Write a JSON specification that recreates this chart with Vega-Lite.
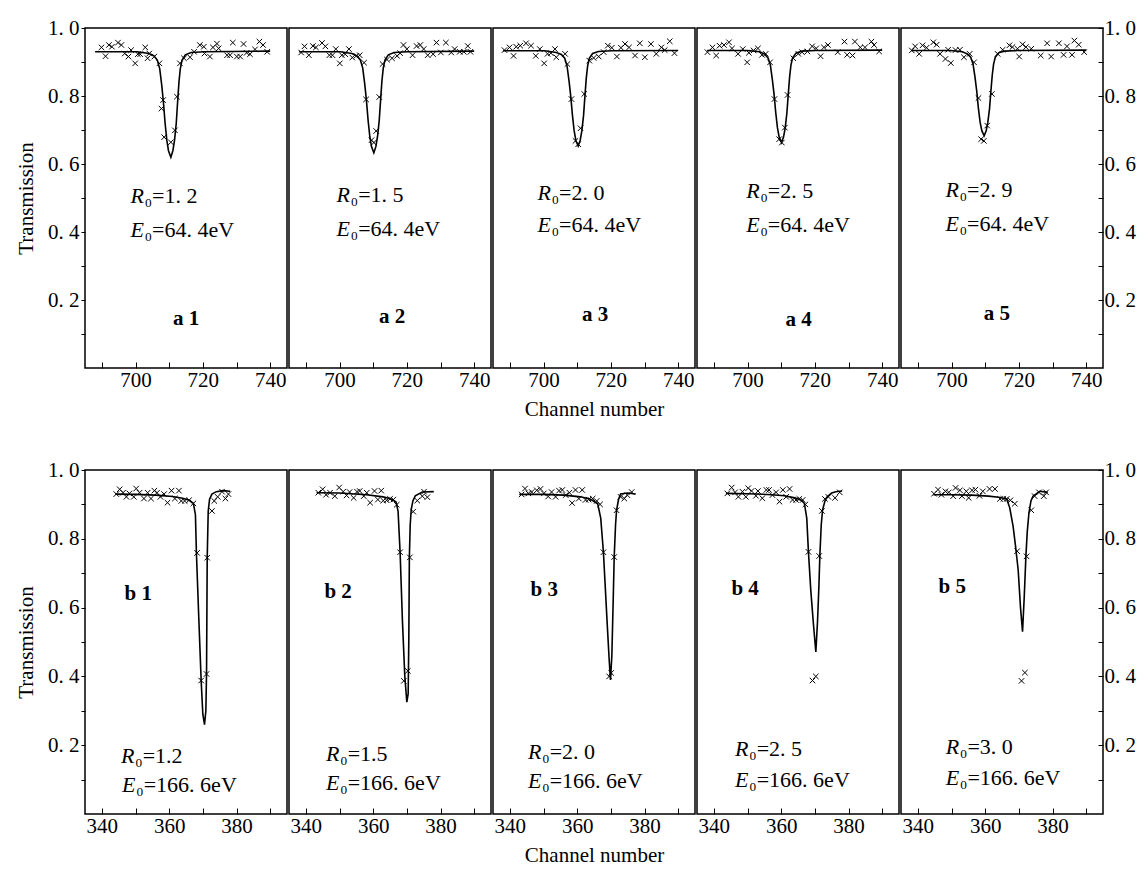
{
"$schema": "https://vega.github.io/schema/vega-lite/v6.json",
"background": "white",
"padding": {"left": 14, "top": 16, "right": 5, "bottom": 5},
"config": {
  "view": {"stroke": "black", "strokeWidth": 1.5},
  "font": "'Liberation Serif', 'Times New Roman', 'DejaVu Serif', serif",
  "axis": {"domain": false, "grid": false, "labelFont": "'Liberation Serif', 'Times New Roman', 'DejaVu Serif', serif", "labelFontSize": 21, "labelColor": "black", "tickColor": "black", "tickWidth": 1, "titleFont": "'Liberation Serif', 'Times New Roman', 'DejaVu Serif', serif", "titleFontSize": 21, "titleFontWeight": "normal", "titleColor": "black", "labelFlush": false, "labelOverlap": false},
  "text": {"font": "'Liberation Serif', 'Times New Roman', 'DejaVu Serif', serif", "fontSize": 22, "color": "black"}
},
"datasets": {
"curve": [
{"p":"a1","c":688,"t":0.930},{"p":"a1","c":700.5,"t":0.930},{"p":"a1","c":704,"t":0.925},{"p":"a1","c":705.5,"t":0.918},{"p":"a1","c":706.5,"t":0.905},{"p":"a1","c":707.2,"t":0.880},{"p":"a1","c":707.8,"t":0.831},{"p":"a1","c":708.3,"t":0.781},{"p":"a1","c":708.8,"t":0.719},{"p":"a1","c":709.3,"t":0.670},{"p":"a1","c":709.8,"t":0.639},{"p":"a1","c":710.5,"t":0.620},{"p":"a1","c":711.1,"t":0.639},{"p":"a1","c":711.6,"t":0.670},{"p":"a1","c":712.1,"t":0.719},{"p":"a1","c":712.5,"t":0.781},{"p":"a1","c":712.9,"t":0.840},{"p":"a1","c":713.3,"t":0.880},{"p":"a1","c":713.8,"t":0.905},{"p":"a1","c":714.8,"t":0.921},{"p":"a1","c":716.5,"t":0.928},{"p":"a1","c":720.5,"t":0.930},{"p":"a1","c":740,"t":0.932},
{"p":"a2","c":688,"t":0.930},{"p":"a2","c":700.2,"t":0.930},{"p":"a2","c":703.7,"t":0.925},{"p":"a2","c":705.2,"t":0.918},{"p":"a2","c":706.2,"t":0.906},{"p":"a2","c":706.9,"t":0.882},{"p":"a2","c":707.5,"t":0.835},{"p":"a2","c":708.0,"t":0.787},{"p":"a2","c":708.5,"t":0.728},{"p":"a2","c":709.0,"t":0.681},{"p":"a2","c":709.5,"t":0.651},{"p":"a2","c":710.2,"t":0.633},{"p":"a2","c":710.8,"t":0.651},{"p":"a2","c":711.3,"t":0.681},{"p":"a2","c":711.8,"t":0.728},{"p":"a2","c":712.2,"t":0.787},{"p":"a2","c":712.6,"t":0.844},{"p":"a2","c":713.0,"t":0.882},{"p":"a2","c":713.5,"t":0.906},{"p":"a2","c":714.5,"t":0.921},{"p":"a2","c":716.2,"t":0.928},{"p":"a2","c":720.2,"t":0.930},{"p":"a2","c":740,"t":0.932},
{"p":"a3","c":688,"t":0.933},{"p":"a3","c":700.3,"t":0.933},{"p":"a3","c":703.8,"t":0.928},{"p":"a3","c":705.3,"t":0.922},{"p":"a3","c":706.3,"t":0.911},{"p":"a3","c":707.0,"t":0.888},{"p":"a3","c":707.6,"t":0.843},{"p":"a3","c":708.1,"t":0.799},{"p":"a3","c":708.6,"t":0.743},{"p":"a3","c":709.1,"t":0.698},{"p":"a3","c":709.6,"t":0.670},{"p":"a3","c":710.3,"t":0.653},{"p":"a3","c":710.9,"t":0.670},{"p":"a3","c":711.4,"t":0.698},{"p":"a3","c":711.9,"t":0.743},{"p":"a3","c":712.3,"t":0.799},{"p":"a3","c":712.7,"t":0.852},{"p":"a3","c":713.1,"t":0.888},{"p":"a3","c":713.6,"t":0.911},{"p":"a3","c":714.6,"t":0.925},{"p":"a3","c":716.3,"t":0.931},{"p":"a3","c":720.3,"t":0.933},{"p":"a3","c":740,"t":0.934},
{"p":"a4","c":688,"t":0.934},{"p":"a4","c":700.1,"t":0.934},{"p":"a4","c":703.6,"t":0.930},{"p":"a4","c":705.1,"t":0.923},{"p":"a4","c":706.1,"t":0.912},{"p":"a4","c":706.8,"t":0.891},{"p":"a4","c":707.4,"t":0.847},{"p":"a4","c":707.9,"t":0.804},{"p":"a4","c":708.4,"t":0.750},{"p":"a4","c":708.9,"t":0.706},{"p":"a4","c":709.4,"t":0.679},{"p":"a4","c":710.1,"t":0.663},{"p":"a4","c":710.7,"t":0.679},{"p":"a4","c":711.2,"t":0.706},{"p":"a4","c":711.7,"t":0.750},{"p":"a4","c":712.1,"t":0.804},{"p":"a4","c":712.5,"t":0.855},{"p":"a4","c":712.9,"t":0.891},{"p":"a4","c":713.4,"t":0.912},{"p":"a4","c":714.4,"t":0.926},{"p":"a4","c":716.1,"t":0.932},{"p":"a4","c":720.1,"t":0.934},{"p":"a4","c":740,"t":0.935},
{"p":"a5","c":688,"t":0.934},{"p":"a5","c":699.7,"t":0.934},{"p":"a5","c":703.2,"t":0.930},{"p":"a5","c":704.7,"t":0.924},{"p":"a5","c":705.7,"t":0.914},{"p":"a5","c":706.4,"t":0.894},{"p":"a5","c":707.0,"t":0.854},{"p":"a5","c":707.5,"t":0.814},{"p":"a5","c":708.0,"t":0.763},{"p":"a5","c":708.5,"t":0.723},{"p":"a5","c":709.0,"t":0.698},{"p":"a5","c":709.7,"t":0.683},{"p":"a5","c":710.3,"t":0.698},{"p":"a5","c":710.8,"t":0.723},{"p":"a5","c":711.3,"t":0.763},{"p":"a5","c":711.7,"t":0.814},{"p":"a5","c":712.1,"t":0.861},{"p":"a5","c":712.5,"t":0.894},{"p":"a5","c":713.0,"t":0.914},{"p":"a5","c":714.0,"t":0.927},{"p":"a5","c":715.7,"t":0.932},{"p":"a5","c":719.7,"t":0.934},{"p":"a5","c":740,"t":0.935},
{"p":"b1","c":344,"t":0.930},{"p":"b1","c":350,"t":0.929},{"p":"b1","c":356,"t":0.927},{"p":"b1","c":361,"t":0.923},{"p":"b1","c":364,"t":0.918},{"p":"b1","c":366,"t":0.912},{"p":"b1","c":367.2,"t":0.903},{"p":"b1","c":367.8,"t":0.87},{"p":"b1","c":368.1,"t":0.757},{"p":"b1","c":368.8,"t":0.57},{"p":"b1","c":369.5,"t":0.388},{"p":"b1","c":370.0,"t":0.29},{"p":"b1","c":370.5,"t":0.26},{"p":"b1","c":370.9,"t":0.30},{"p":"b1","c":371.1,"t":0.41},{"p":"b1","c":371.3,"t":0.745},{"p":"b1","c":371.6,"t":0.88},{"p":"b1","c":372.0,"t":0.915},{"p":"b1","c":372.7,"t":0.930},{"p":"b1","c":374,"t":0.937},{"p":"b1","c":376,"t":0.940},{"p":"b1","c":378.1,"t":0.938},
{"p":"b2","c":343.2,"t":0.934},{"p":"b2","c":350,"t":0.933},{"p":"b2","c":358,"t":0.928},{"p":"b2","c":363,"t":0.922},{"p":"b2","c":365.5,"t":0.915},{"p":"b2","c":366.8,"t":0.907},{"p":"b2","c":367.4,"t":0.88},{"p":"b2","c":368.0,"t":0.761},{"p":"b2","c":368.7,"t":0.56},{"p":"b2","c":369.4,"t":0.40},{"p":"b2","c":370.0,"t":0.325},{"p":"b2","c":370.4,"t":0.35},{"p":"b2","c":370.6,"t":0.52},{"p":"b2","c":370.75,"t":0.746},{"p":"b2","c":371.0,"t":0.84},{"p":"b2","c":371.3,"t":0.885},{"p":"b2","c":371.8,"t":0.91},{"p":"b2","c":372.5,"t":0.925},{"p":"b2","c":374.6,"t":0.936},{"p":"b2","c":378.0,"t":0.937},
{"p":"b3","c":342.8,"t":0.929},{"p":"b3","c":350,"t":0.929},{"p":"b3","c":356,"t":0.927},{"p":"b3","c":361,"t":0.922},{"p":"b3","c":364,"t":0.915},{"p":"b3","c":366.1,"t":0.902},{"p":"b3","c":367.0,"t":0.86},{"p":"b3","c":367.8,"t":0.761},{"p":"b3","c":368.9,"t":0.557},{"p":"b3","c":369.5,"t":0.45},{"p":"b3","c":369.9,"t":0.39},{"p":"b3","c":370.3,"t":0.46},{"p":"b3","c":370.7,"t":0.62},{"p":"b3","c":371.0,"t":0.747},{"p":"b3","c":371.4,"t":0.84},{"p":"b3","c":371.7,"t":0.883},{"p":"b3","c":372.3,"t":0.915},{"p":"b3","c":372.9,"t":0.930},{"p":"b3","c":375,"t":0.933},{"p":"b3","c":377.4,"t":0.930},
{"p":"b4","c":343.6,"t":0.932},{"p":"b4","c":350,"t":0.931},{"p":"b4","c":356,"t":0.929},{"p":"b4","c":361,"t":0.925},{"p":"b4","c":364,"t":0.919},{"p":"b4","c":366,"t":0.912},{"p":"b4","c":366.9,"t":0.903},{"p":"b4","c":367.6,"t":0.86},{"p":"b4","c":368.1,"t":0.762},{"p":"b4","c":368.8,"t":0.65},{"p":"b4","c":369.6,"t":0.55},{"p":"b4","c":370.3,"t":0.471},{"p":"b4","c":370.8,"t":0.56},{"p":"b4","c":371.2,"t":0.66},{"p":"b4","c":371.5,"t":0.753},{"p":"b4","c":371.9,"t":0.84},{"p":"b4","c":372.3,"t":0.884},{"p":"b4","c":373.0,"t":0.91},{"p":"b4","c":373.7,"t":0.922},{"p":"b4","c":375,"t":0.933},{"p":"b4","c":376.2,"t":0.937},{"p":"b4","c":378.1,"t":0.939},
{"p":"b5","c":344.6,"t":0.928},{"p":"b5","c":350,"t":0.928},{"p":"b5","c":356,"t":0.927},{"p":"b5","c":361,"t":0.924},{"p":"b5","c":364,"t":0.921},{"p":"b5","c":366.4,"t":0.916},{"p":"b5","c":367.3,"t":0.89},{"p":"b5","c":368.3,"t":0.836},{"p":"b5","c":369.0,"t":0.78},{"p":"b5","c":369.8,"t":0.710},{"p":"b5","c":370.5,"t":0.60},{"p":"b5","c":371.1,"t":0.530},{"p":"b5","c":371.6,"t":0.63},{"p":"b5","c":372.1,"t":0.749},{"p":"b5","c":372.5,"t":0.82},{"p":"b5","c":373.0,"t":0.875},{"p":"b5","c":373.6,"t":0.91},{"p":"b5","c":374.2,"t":0.924},{"p":"b5","c":376.2,"t":0.938},{"p":"b5","c":378.6,"t":0.935}
],
"pts": [
{"p":"a1","c":689.9,"t":0.943},{"p":"a1","c":691.1,"t":0.917},{"p":"a1","c":692.1,"t":0.950},{"p":"a1","c":693.0,"t":0.945},{"p":"a1","c":694.8,"t":0.957},{"p":"a1","c":695.8,"t":0.950},{"p":"a1","c":696.8,"t":0.925},{"p":"a1","c":697.9,"t":0.916},{"p":"a1","c":698.7,"t":0.935},{"p":"a1","c":699.9,"t":0.896},{"p":"a1","c":700.7,"t":0.923},{"p":"a1","c":701.4,"t":0.923},{"p":"a1","c":702.9,"t":0.943},{"p":"a1","c":703.6,"t":0.911},{"p":"a1","c":704.1,"t":0.925},{"p":"a1","c":705.6,"t":0.916},{"p":"a1","c":707.1,"t":0.896},{"p":"a1","c":708.2,"t":0.788},{"p":"a1","c":707.7,"t":0.763},{"p":"a1","c":708.5,"t":0.679},{"p":"a1","c":710.5,"t":0.664},{"p":"a1","c":711.7,"t":0.699},{"p":"a1","c":712.3,"t":0.798},{"p":"a1","c":713.2,"t":0.896},{"p":"a1","c":714.4,"t":0.911},{"p":"a1","c":716.2,"t":0.914},{"p":"a1","c":717.4,"t":0.930},{"p":"a1","c":719.1,"t":0.950},{"p":"a1","c":720.3,"t":0.945},{"p":"a1","c":720.5,"t":0.925},{"p":"a1","c":722.1,"t":0.916},{"p":"a1","c":723.0,"t":0.943},{"p":"a1","c":724.2,"t":0.954},{"p":"a1","c":724.7,"t":0.940},{"p":"a1","c":727.2,"t":0.920},{"p":"a1","c":728.1,"t":0.920},{"p":"a1","c":728.9,"t":0.957},{"p":"a1","c":730.1,"t":0.916},{"p":"a1","c":731.1,"t":0.916},{"p":"a1","c":732.1,"t":0.953},{"p":"a1","c":733.0,"t":0.927},{"p":"a1","c":734.0,"t":0.923},{"p":"a1","c":735.5,"t":0.937},{"p":"a1","c":736.8,"t":0.960},{"p":"a1","c":737.9,"t":0.950},{"p":"a1","c":739.1,"t":0.930},
{"p":"a2","c":688.6,"t":0.928},{"p":"a2","c":689.6,"t":0.946},{"p":"a2","c":690.9,"t":0.920},{"p":"a2","c":692.1,"t":0.947},{"p":"a2","c":693.0,"t":0.943},{"p":"a2","c":694.8,"t":0.956},{"p":"a2","c":695.8,"t":0.946},{"p":"a2","c":697.0,"t":0.920},{"p":"a2","c":697.9,"t":0.920},{"p":"a2","c":698.9,"t":0.938},{"p":"a2","c":700.1,"t":0.896},{"p":"a2","c":700.7,"t":0.920},{"p":"a2","c":701.7,"t":0.923},{"p":"a2","c":702.8,"t":0.938},{"p":"a2","c":703.8,"t":0.913},{"p":"a2","c":705.0,"t":0.918},{"p":"a2","c":706.0,"t":0.920},{"p":"a2","c":707.3,"t":0.898},{"p":"a2","c":707.9,"t":0.790},{"p":"a2","c":709.5,"t":0.670},{"p":"a2","c":710.2,"t":0.663},{"p":"a2","c":710.9,"t":0.697},{"p":"a2","c":711.8,"t":0.797},{"p":"a2","c":712.8,"t":0.894},{"p":"a2","c":714.1,"t":0.907},{"p":"a2","c":715.6,"t":0.911},{"p":"a2","c":717.1,"t":0.918},{"p":"a2","c":718.0,"t":0.926},{"p":"a2","c":719.0,"t":0.950},{"p":"a2","c":720.0,"t":0.938},{"p":"a2","c":721.7,"t":0.920},{"p":"a2","c":722.9,"t":0.947},{"p":"a2","c":724.0,"t":0.950},{"p":"a2","c":725.0,"t":0.938},{"p":"a2","c":726.2,"t":0.920},{"p":"a2","c":727.8,"t":0.923},{"p":"a2","c":728.8,"t":0.957},{"p":"a2","c":730.1,"t":0.928},{"p":"a2","c":731.6,"t":0.957},{"p":"a2","c":733.2,"t":0.928},{"p":"a2","c":734.2,"t":0.938},{"p":"a2","c":735.7,"t":0.930},{"p":"a2","c":736.9,"t":0.930},{"p":"a2","c":738.1,"t":0.947},{"p":"a2","c":738.9,"t":0.930},
{"p":"a3","c":688.4,"t":0.935},{"p":"a3","c":689.9,"t":0.943},{"p":"a3","c":691.1,"t":0.918},{"p":"a3","c":691.9,"t":0.945},{"p":"a3","c":693.1,"t":0.948},{"p":"a3","c":694.8,"t":0.955},{"p":"a3","c":696.3,"t":0.948},{"p":"a3","c":697.7,"t":0.918},{"p":"a3","c":698.9,"t":0.938},{"p":"a3","c":700.2,"t":0.896},{"p":"a3","c":701.2,"t":0.924},{"p":"a3","c":702.2,"t":0.926},{"p":"a3","c":703.4,"t":0.938},{"p":"a3","c":703.8,"t":0.914},{"p":"a3","c":706.4,"t":0.924},{"p":"a3","c":707.1,"t":0.894},{"p":"a3","c":708.3,"t":0.791},{"p":"a3","c":709.5,"t":0.668},{"p":"a3","c":710.3,"t":0.658},{"p":"a3","c":711.0,"t":0.705},{"p":"a3","c":712.1,"t":0.806},{"p":"a3","c":713.6,"t":0.904},{"p":"a3","c":714.9,"t":0.912},{"p":"a3","c":716.4,"t":0.916},{"p":"a3","c":717.9,"t":0.929},{"p":"a3","c":719.1,"t":0.948},{"p":"a3","c":720.3,"t":0.942},{"p":"a3","c":721.8,"t":0.916},{"p":"a3","c":723.0,"t":0.942},{"p":"a3","c":724.2,"t":0.953},{"p":"a3","c":725.4,"t":0.943},{"p":"a3","c":727.2,"t":0.919},{"p":"a3","c":728.6,"t":0.955},{"p":"a3","c":730.1,"t":0.914},{"p":"a3","c":731.9,"t":0.953},{"p":"a3","c":733.5,"t":0.924},{"p":"a3","c":735.0,"t":0.943},{"p":"a3","c":736.0,"t":0.935},{"p":"a3","c":737.5,"t":0.961},{"p":"a3","c":738.9,"t":0.926},
{"p":"a4","c":688.1,"t":0.929},{"p":"a4","c":689.6,"t":0.943},{"p":"a4","c":690.7,"t":0.919},{"p":"a4","c":691.7,"t":0.948},{"p":"a4","c":693.0,"t":0.950},{"p":"a4","c":694.5,"t":0.958},{"p":"a4","c":695.4,"t":0.940},{"p":"a4","c":697.2,"t":0.924},{"p":"a4","c":698.6,"t":0.938},{"p":"a4","c":699.9,"t":0.899},{"p":"a4","c":700.4,"t":0.927},{"p":"a4","c":701.8,"t":0.934},{"p":"a4","c":703.1,"t":0.940},{"p":"a4","c":704.3,"t":0.921},{"p":"a4","c":705.4,"t":0.924},{"p":"a4","c":706.7,"t":0.899},{"p":"a4","c":708.0,"t":0.791},{"p":"a4","c":709.4,"t":0.673},{"p":"a4","c":710.2,"t":0.663},{"p":"a4","c":711.1,"t":0.707},{"p":"a4","c":711.9,"t":0.803},{"p":"a4","c":713.6,"t":0.911},{"p":"a4","c":715.1,"t":0.924},{"p":"a4","c":716.2,"t":0.929},{"p":"a4","c":717.8,"t":0.931},{"p":"a4","c":719.2,"t":0.946},{"p":"a4","c":720.4,"t":0.940},{"p":"a4","c":721.7,"t":0.917},{"p":"a4","c":722.7,"t":0.943},{"p":"a4","c":723.9,"t":0.950},{"p":"a4","c":726.8,"t":0.929},{"p":"a4","c":728.8,"t":0.960},{"p":"a4","c":729.6,"t":0.921},{"p":"a4","c":731.2,"t":0.919},{"p":"a4","c":731.9,"t":0.960},{"p":"a4","c":733.5,"t":0.943},{"p":"a4","c":734.9,"t":0.943},{"p":"a4","c":736.8,"t":0.960},{"p":"a4","c":737.6,"t":0.950},{"p":"a4","c":739.1,"t":0.931},
{"p":"a5","c":688.2,"t":0.934},{"p":"a5","c":689.2,"t":0.946},{"p":"a5","c":690.4,"t":0.924},{"p":"a5","c":691.4,"t":0.949},{"p":"a5","c":692.6,"t":0.942},{"p":"a5","c":694.6,"t":0.958},{"p":"a5","c":695.6,"t":0.951},{"p":"a5","c":696.6,"t":0.924},{"p":"a5","c":698.2,"t":0.909},{"p":"a5","c":699.0,"t":0.936},{"p":"a5","c":699.8,"t":0.897},{"p":"a5","c":701.2,"t":0.935},{"p":"a5","c":702.5,"t":0.936},{"p":"a5","c":703.7,"t":0.914},{"p":"a5","c":705.4,"t":0.924},{"p":"a5","c":706.7,"t":0.899},{"p":"a5","c":708.0,"t":0.794},{"p":"a5","c":708.8,"t":0.673},{"p":"a5","c":709.6,"t":0.668},{"p":"a5","c":710.6,"t":0.713},{"p":"a5","c":712.0,"t":0.806},{"p":"a5","c":713.7,"t":0.924},{"p":"a5","c":715.2,"t":0.936},{"p":"a5","c":717.2,"t":0.949},{"p":"a5","c":718.1,"t":0.944},{"p":"a5","c":719.6,"t":0.939},{"p":"a5","c":720.1,"t":0.916},{"p":"a5","c":721.1,"t":0.952},{"p":"a5","c":722.1,"t":0.944},{"p":"a5","c":723.7,"t":0.939},{"p":"a5","c":726.5,"t":0.919},{"p":"a5","c":728.4,"t":0.955},{"p":"a5","c":729.6,"t":0.916},{"p":"a5","c":731.9,"t":0.955},{"p":"a5","c":733.3,"t":0.921},{"p":"a5","c":734.3,"t":0.946},{"p":"a5","c":735.8,"t":0.921},{"p":"a5","c":736.5,"t":0.963},{"p":"a5","c":737.8,"t":0.951},{"p":"a5","c":739.4,"t":0.929},
{"p":"b1","c":344.3,"t":0.930},{"p":"b1","c":345.3,"t":0.944},{"p":"b1","c":346.3,"t":0.934},{"p":"b1","c":347.3,"t":0.922},{"p":"b1","c":348.2,"t":0.932},{"p":"b1","c":349.5,"t":0.922},{"p":"b1","c":350.2,"t":0.946},{"p":"b1","c":351.2,"t":0.934},{"p":"b1","c":352.5,"t":0.917},{"p":"b1","c":353.6,"t":0.934},{"p":"b1","c":354.6,"t":0.917},{"p":"b1","c":355.6,"t":0.940},{"p":"b1","c":356.4,"t":0.934},{"p":"b1","c":357.4,"t":0.922},{"p":"b1","c":358.5,"t":0.930},{"p":"b1","c":359.5,"t":0.905},{"p":"b1","c":360.7,"t":0.940},{"p":"b1","c":361.7,"t":0.917},{"p":"b1","c":362.9,"t":0.940},{"p":"b1","c":363.6,"t":0.910},{"p":"b1","c":364.6,"t":0.910},{"p":"b1","c":365.9,"t":0.912},{"p":"b1","c":367.2,"t":0.903},{"p":"b1","c":368.3,"t":0.759},{"p":"b1","c":369.5,"t":0.388},{"p":"b1","c":371.1,"t":0.407},{"p":"b1","c":371.3,"t":0.745},{"p":"b1","c":372.7,"t":0.881},{"p":"b1","c":373.4,"t":0.910},{"p":"b1","c":374.4,"t":0.922},{"p":"b1","c":375.7,"t":0.937},{"p":"b1","c":376.7,"t":0.917},{"p":"b1","c":377.6,"t":0.930},
{"p":"b2","c":343.7,"t":0.934},{"p":"b2","c":345.0,"t":0.944},{"p":"b2","c":346.0,"t":0.928},{"p":"b2","c":347.2,"t":0.934},{"p":"b2","c":348.6,"t":0.924},{"p":"b2","c":349.9,"t":0.949},{"p":"b2","c":351.1,"t":0.937},{"p":"b2","c":352.1,"t":0.926},{"p":"b2","c":353.0,"t":0.936},{"p":"b2","c":354.2,"t":0.919},{"p":"b2","c":355.2,"t":0.937},{"p":"b2","c":356.0,"t":0.939},{"p":"b2","c":357.2,"t":0.924},{"p":"b2","c":358.1,"t":0.934},{"p":"b2","c":359.1,"t":0.905},{"p":"b2","c":360.4,"t":0.939},{"p":"b2","c":361.4,"t":0.914},{"p":"b2","c":362.4,"t":0.940},{"p":"b2","c":363.0,"t":0.911},{"p":"b2","c":364.0,"t":0.912},{"p":"b2","c":365.0,"t":0.916},{"p":"b2","c":366.0,"t":0.914},{"p":"b2","c":367.0,"t":0.899},{"p":"b2","c":368.0,"t":0.761},{"p":"b2","c":369.1,"t":0.387},{"p":"b2","c":370.3,"t":0.416},{"p":"b2","c":370.9,"t":0.746},{"p":"b2","c":371.9,"t":0.879},{"p":"b2","c":373.1,"t":0.911},{"p":"b2","c":374.6,"t":0.924},{"p":"b2","c":375.1,"t":0.937},{"p":"b2","c":376.1,"t":0.921},
{"p":"b3","c":343.5,"t":0.929},{"p":"b3","c":344.5,"t":0.946},{"p":"b3","c":345.5,"t":0.932},{"p":"b3","c":346.5,"t":0.936},{"p":"b3","c":348.0,"t":0.941},{"p":"b3","c":349.1,"t":0.945},{"p":"b3","c":350.1,"t":0.932},{"p":"b3","c":351.4,"t":0.923},{"p":"b3","c":352.4,"t":0.936},{"p":"b3","c":353.6,"t":0.922},{"p":"b3","c":354.6,"t":0.940},{"p":"b3","c":355.6,"t":0.942},{"p":"b3","c":356.6,"t":0.927},{"p":"b3","c":357.7,"t":0.934},{"p":"b3","c":358.5,"t":0.904},{"p":"b3","c":359.5,"t":0.942},{"p":"b3","c":360.5,"t":0.917},{"p":"b3","c":361.5,"t":0.942},{"p":"b3","c":362.5,"t":0.913},{"p":"b3","c":363.4,"t":0.914},{"p":"b3","c":364.6,"t":0.917},{"p":"b3","c":365.8,"t":0.910},{"p":"b3","c":366.8,"t":0.900},{"p":"b3","c":367.8,"t":0.761},{"p":"b3","c":369.5,"t":0.40},{"p":"b3","c":370.1,"t":0.41},{"p":"b3","c":371.0,"t":0.747},{"p":"b3","c":371.7,"t":0.883},{"p":"b3","c":372.9,"t":0.922},{"p":"b3","c":374.0,"t":0.917},{"p":"b3","c":374.9,"t":0.927},{"p":"b3","c":376.2,"t":0.936},
{"p":"b4","c":344.0,"t":0.932},{"p":"b4","c":345.3,"t":0.949},{"p":"b4","c":346.3,"t":0.935},{"p":"b4","c":347.3,"t":0.922},{"p":"b4","c":348.5,"t":0.937},{"p":"b4","c":349.5,"t":0.922},{"p":"b4","c":350.2,"t":0.947},{"p":"b4","c":351.2,"t":0.939},{"p":"b4","c":352.5,"t":0.925},{"p":"b4","c":353.1,"t":0.939},{"p":"b4","c":354.4,"t":0.918},{"p":"b4","c":355.6,"t":0.942},{"p":"b4","c":356.4,"t":0.942},{"p":"b4","c":357.4,"t":0.927},{"p":"b4","c":358.5,"t":0.935},{"p":"b4","c":359.5,"t":0.908},{"p":"b4","c":360.5,"t":0.942},{"p":"b4","c":361.5,"t":0.922},{"p":"b4","c":362.5,"t":0.945},{"p":"b4","c":363.4,"t":0.913},{"p":"b4","c":364.4,"t":0.913},{"p":"b4","c":365.4,"t":0.916},{"p":"b4","c":366.4,"t":0.913},{"p":"b4","c":367.2,"t":0.900},{"p":"b4","c":368.1,"t":0.762},{"p":"b4","c":369.3,"t":0.388},{"p":"b4","c":370.3,"t":0.400},{"p":"b4","c":371.3,"t":0.750},{"p":"b4","c":372.1,"t":0.881},{"p":"b4","c":373.0,"t":0.916},{"p":"b4","c":374.0,"t":0.922},{"p":"b4","c":376.0,"t":0.919},{"p":"b4","c":377.4,"t":0.935},
{"p":"b5","c":344.8,"t":0.931},{"p":"b5","c":346.0,"t":0.943},{"p":"b5","c":347.0,"t":0.928},{"p":"b5","c":348.2,"t":0.938},{"p":"b5","c":349.2,"t":0.935},{"p":"b5","c":350.5,"t":0.924},{"p":"b5","c":351.2,"t":0.948},{"p":"b5","c":352.5,"t":0.941},{"p":"b5","c":353.1,"t":0.924},{"p":"b5","c":354.4,"t":0.938},{"p":"b5","c":355.1,"t":0.919},{"p":"b5","c":356.1,"t":0.941},{"p":"b5","c":357.1,"t":0.943},{"p":"b5","c":358.3,"t":0.925},{"p":"b5","c":359.3,"t":0.938},{"p":"b5","c":361.3,"t":0.945},{"p":"b5","c":362.9,"t":0.945},{"p":"b5","c":364.4,"t":0.916},{"p":"b5","c":365.4,"t":0.916},{"p":"b5","c":366.4,"t":0.916},{"p":"b5","c":367.5,"t":0.912},{"p":"b5","c":368.8,"t":0.902},{"p":"b5","c":369.5,"t":0.764},{"p":"b5","c":370.8,"t":0.387},{"p":"b5","c":371.8,"t":0.411},{"p":"b5","c":372.3,"t":0.749},{"p":"b5","c":373.7,"t":0.883},{"p":"b5","c":374.7,"t":0.924},{"p":"b5","c":376.0,"t":0.935},{"p":"b5","c":377.4,"t":0.924},{"p":"b5","c":378.1,"t":0.935}
],
"lab": [
{"p":"a1","c":698.5,"t":0.505,"s":"R","r":"₀=1. 2"},{"p":"a1","c":698.5,"t":0.405,"s":"E","r":"₀=64. 4eV"},
{"p":"a2","c":699.1,"t":0.51,"s":"R","r":"₀=1. 5"},{"p":"a2","c":699.1,"t":0.41,"s":"E","r":"₀=64. 4eV"},
{"p":"a3","c":698.2,"t":0.515,"s":"R","r":"₀=2. 0"},{"p":"a3","c":698.2,"t":0.42,"s":"E","r":"₀=64. 4eV"},
{"p":"a4","c":699.6,"t":0.52,"s":"R","r":"₀=2. 5"},{"p":"a4","c":699.6,"t":0.42,"s":"E","r":"₀=64. 4eV"},
{"p":"a5","c":698.2,"t":0.525,"s":"R","r":"₀=2. 9"},{"p":"a5","c":698.2,"t":0.425,"s":"E","r":"₀=64. 4eV"},
{"p":"b1","c":345.7,"t":0.17,"s":"R","r":"₀=1.2"},{"p":"b1","c":346.0,"t":0.085,"s":"E","r":"₀=166. 6eV"},
{"p":"b2","c":346.0,"t":0.175,"s":"R","r":"₀=1.5"},{"p":"b2","c":346.0,"t":0.09,"s":"E","r":"₀=166. 6eV"},
{"p":"b3","c":345.4,"t":0.18,"s":"R","r":"₀=2. 0"},{"p":"b3","c":345.4,"t":0.095,"s":"E","r":"₀=166. 6eV"},
{"p":"b4","c":346.3,"t":0.19,"s":"R","r":"₀=2. 5"},{"p":"b4","c":346.3,"t":0.10,"s":"E","r":"₀=166. 6eV"},
{"p":"b5","c":348.3,"t":0.195,"s":"R","r":"₀=3. 0"},{"p":"b5","c":348.3,"t":0.105,"s":"E","r":"₀=166. 6eV"}
],
"tag": [
{"p":"a1","c":715.0,"t":0.145,"g":"a 1"},{"p":"a2","c":715.6,"t":0.15,"g":"a 2"},{"p":"a3","c":715.3,"t":0.155,"g":"a 3"},{"p":"a4","c":715.2,"t":0.14,"g":"a 4"},{"p":"a5","c":713.5,"t":0.16,"g":"a 5"},
{"p":"b1","c":350.8,"t":0.64,"g":"b 1"},{"p":"b2","c":349.6,"t":0.645,"g":"b 2"},{"p":"b3","c":350.2,"t":0.65,"g":"b 3"},{"p":"b4","c":349.3,"t":0.655,"g":"b 4"},{"p":"b5","c":350.2,"t":0.66,"g":"b 5"}
]
},
"spacing": 38,
"vconcat": [
{"spacing": 0, "hconcat": [
 {"width": 202, "height": 340,
  "encoding": {
   "x": {"field": "c", "type": "quantitative", "scale": {"domain": [685, 745], "nice": false, "zero": false}, "axis": {"values": [690,700,710,720,730,740], "labelExpr": "datum.value % 20 == 0 ? datum.label : ''", "tickSize": -6, "labelPadding": 7, "title": null}},
   "y": {"field": "t", "type": "quantitative", "scale": {"domain": [0, 1], "nice": false, "zero": false}, "axis": {"orient": "left", "values": [0.1,0.2,0.3,0.4,0.5,0.6,0.7,0.8,0.9,1.0], "labelExpr": "round(datum.value*10) % 2 == 0 ? replace(format(datum.value, '.1f'), '.', '. ') : ''", "tickSize": 4, "labelPadding": 2, "title": "Transmission", "titlePadding": 11}}},
  "layer": [
   {"data": {"name": "curve"}, "transform": [{"filter": "datum.p == 'a1'"}], "mark": {"type": "line", "color": "black", "strokeWidth": 1.6}},
   {"data": {"name": "pts"}, "transform": [{"filter": "datum.p == 'a1'"}], "mark": {"type": "point", "shape": "M-1,-1L1,1M1,-1L-1,1", "size": 30, "stroke": "black", "strokeWidth": 1, "filled": false, "opacity": 1}},
   {"data": {"name": "lab"}, "transform": [{"filter": "datum.p == 'a1'"}], "mark": {"type": "text", "align": "left", "baseline": "middle", "fontStyle": "italic"}, "encoding": {"text": {"field": "s"}}},
   {"data": {"name": "lab"}, "transform": [{"filter": "datum.p == 'a1'"}], "mark": {"type": "text", "align": "left", "baseline": "middle", "dx": 14}, "encoding": {"text": {"field": "r"}}},
   {"data": {"name": "tag"}, "transform": [{"filter": "datum.p == 'a1'"}], "mark": {"type": "text", "align": "center", "baseline": "middle", "fontWeight": "bold", "fontSize": 21}, "encoding": {"text": {"field": "g"}}}
  ]},
 {"width": 202, "height": 340,
  "encoding": {
   "x": {"field": "c", "type": "quantitative", "scale": {"domain": [685, 745], "nice": false, "zero": false}, "axis": {"values": [690,700,710,720,730,740], "labelExpr": "datum.value % 20 == 0 ? datum.label : ''", "tickSize": -6, "labelPadding": 7, "title": null}},
   "y": {"field": "t", "type": "quantitative", "scale": {"domain": [0, 1], "nice": false, "zero": false}, "axis": null}},
  "layer": [
   {"data": {"name": "curve"}, "transform": [{"filter": "datum.p == 'a2'"}], "mark": {"type": "line", "color": "black", "strokeWidth": 1.6}},
   {"data": {"name": "pts"}, "transform": [{"filter": "datum.p == 'a2'"}], "mark": {"type": "point", "shape": "M-1,-1L1,1M1,-1L-1,1", "size": 30, "stroke": "black", "strokeWidth": 1, "filled": false, "opacity": 1}},
   {"data": {"name": "lab"}, "transform": [{"filter": "datum.p == 'a2'"}], "mark": {"type": "text", "align": "left", "baseline": "middle", "fontStyle": "italic"}, "encoding": {"text": {"field": "s"}}},
   {"data": {"name": "lab"}, "transform": [{"filter": "datum.p == 'a2'"}], "mark": {"type": "text", "align": "left", "baseline": "middle", "dx": 14}, "encoding": {"text": {"field": "r"}}},
   {"data": {"name": "tag"}, "transform": [{"filter": "datum.p == 'a2'"}], "mark": {"type": "text", "align": "center", "baseline": "middle", "fontWeight": "bold", "fontSize": 21}, "encoding": {"text": {"field": "g"}}}
  ]},
 {"width": 202, "height": 340,
  "encoding": {
   "x": {"field": "c", "type": "quantitative", "scale": {"domain": [685, 745], "nice": false, "zero": false}, "axis": {"values": [690,700,710,720,730,740], "labelExpr": "datum.value % 20 == 0 ? datum.label : ''", "tickSize": -6, "labelPadding": 7, "title": "Channel number", "titlePadding": 8}},
   "y": {"field": "t", "type": "quantitative", "scale": {"domain": [0, 1], "nice": false, "zero": false}, "axis": null}},
  "layer": [
   {"data": {"name": "curve"}, "transform": [{"filter": "datum.p == 'a3'"}], "mark": {"type": "line", "color": "black", "strokeWidth": 1.6}},
   {"data": {"name": "pts"}, "transform": [{"filter": "datum.p == 'a3'"}], "mark": {"type": "point", "shape": "M-1,-1L1,1M1,-1L-1,1", "size": 30, "stroke": "black", "strokeWidth": 1, "filled": false, "opacity": 1}},
   {"data": {"name": "lab"}, "transform": [{"filter": "datum.p == 'a3'"}], "mark": {"type": "text", "align": "left", "baseline": "middle", "fontStyle": "italic"}, "encoding": {"text": {"field": "s"}}},
   {"data": {"name": "lab"}, "transform": [{"filter": "datum.p == 'a3'"}], "mark": {"type": "text", "align": "left", "baseline": "middle", "dx": 14}, "encoding": {"text": {"field": "r"}}},
   {"data": {"name": "tag"}, "transform": [{"filter": "datum.p == 'a3'"}], "mark": {"type": "text", "align": "center", "baseline": "middle", "fontWeight": "bold", "fontSize": 21}, "encoding": {"text": {"field": "g"}}}
  ]},
 {"width": 202, "height": 340,
  "encoding": {
   "x": {"field": "c", "type": "quantitative", "scale": {"domain": [685, 745], "nice": false, "zero": false}, "axis": {"values": [690,700,710,720,730,740], "labelExpr": "datum.value % 20 == 0 ? datum.label : ''", "tickSize": -6, "labelPadding": 7, "title": null}},
   "y": {"field": "t", "type": "quantitative", "scale": {"domain": [0, 1], "nice": false, "zero": false}, "axis": null}},
  "layer": [
   {"data": {"name": "curve"}, "transform": [{"filter": "datum.p == 'a4'"}], "mark": {"type": "line", "color": "black", "strokeWidth": 1.6}},
   {"data": {"name": "pts"}, "transform": [{"filter": "datum.p == 'a4'"}], "mark": {"type": "point", "shape": "M-1,-1L1,1M1,-1L-1,1", "size": 30, "stroke": "black", "strokeWidth": 1, "filled": false, "opacity": 1}},
   {"data": {"name": "lab"}, "transform": [{"filter": "datum.p == 'a4'"}], "mark": {"type": "text", "align": "left", "baseline": "middle", "fontStyle": "italic"}, "encoding": {"text": {"field": "s"}}},
   {"data": {"name": "lab"}, "transform": [{"filter": "datum.p == 'a4'"}], "mark": {"type": "text", "align": "left", "baseline": "middle", "dx": 14}, "encoding": {"text": {"field": "r"}}},
   {"data": {"name": "tag"}, "transform": [{"filter": "datum.p == 'a4'"}], "mark": {"type": "text", "align": "center", "baseline": "middle", "fontWeight": "bold", "fontSize": 21}, "encoding": {"text": {"field": "g"}}}
  ]},
 {"width": 202, "height": 340,
  "encoding": {
   "x": {"field": "c", "type": "quantitative", "scale": {"domain": [685, 745], "nice": false, "zero": false}, "axis": {"values": [690,700,710,720,730,740], "labelExpr": "datum.value % 20 == 0 ? datum.label : ''", "tickSize": -6, "labelPadding": 7, "title": null}},
   "y": {"field": "t", "type": "quantitative", "scale": {"domain": [0, 1], "nice": false, "zero": false}, "axis": {"orient": "right", "values": [0.1,0.2,0.3,0.4,0.5,0.6,0.7,0.8,0.9,1.0], "labelExpr": "round(datum.value*10) % 2 == 0 ? replace(format(datum.value, '.1f'), '.', '. ') : ''", "tickSize": -5, "labelPadding": 6, "title": null}}},
  "layer": [
   {"data": {"name": "curve"}, "transform": [{"filter": "datum.p == 'a5'"}], "mark": {"type": "line", "color": "black", "strokeWidth": 1.6}},
   {"data": {"name": "pts"}, "transform": [{"filter": "datum.p == 'a5'"}], "mark": {"type": "point", "shape": "M-1,-1L1,1M1,-1L-1,1", "size": 30, "stroke": "black", "strokeWidth": 1, "filled": false, "opacity": 1}},
   {"data": {"name": "lab"}, "transform": [{"filter": "datum.p == 'a5'"}], "mark": {"type": "text", "align": "left", "baseline": "middle", "fontStyle": "italic"}, "encoding": {"text": {"field": "s"}}},
   {"data": {"name": "lab"}, "transform": [{"filter": "datum.p == 'a5'"}], "mark": {"type": "text", "align": "left", "baseline": "middle", "dx": 14}, "encoding": {"text": {"field": "r"}}},
   {"data": {"name": "tag"}, "transform": [{"filter": "datum.p == 'a5'"}], "mark": {"type": "text", "align": "center", "baseline": "middle", "fontWeight": "bold", "fontSize": 21}, "encoding": {"text": {"field": "g"}}}
  ]}
]},
{"spacing": 0, "hconcat": [
 {"width": 202, "height": 344,
  "encoding": {
   "x": {"field": "c", "type": "quantitative", "scale": {"domain": [335, 395], "nice": false, "zero": false}, "axis": {"values": [340,350,360,370,380,390], "labelExpr": "datum.value % 20 == 0 ? datum.label : ''", "tickSize": -6, "labelPadding": 7, "title": null}},
   "y": {"field": "t", "type": "quantitative", "scale": {"domain": [0, 1], "nice": false, "zero": false}, "axis": {"orient": "left", "values": [0.1,0.2,0.3,0.4,0.5,0.6,0.7,0.8,0.9,1.0], "labelExpr": "round(datum.value*10) % 2 == 0 ? replace(format(datum.value, '.1f'), '.', '. ') : ''", "tickSize": 4, "labelPadding": 2, "title": "Transmission", "titlePadding": 11}}},
  "layer": [
   {"data": {"name": "curve"}, "transform": [{"filter": "datum.p == 'b1'"}], "mark": {"type": "line", "color": "black", "strokeWidth": 1.6}},
   {"data": {"name": "pts"}, "transform": [{"filter": "datum.p == 'b1'"}], "mark": {"type": "point", "shape": "M-1,-1L1,1M1,-1L-1,1", "size": 30, "stroke": "black", "strokeWidth": 1, "filled": false, "opacity": 1}},
   {"data": {"name": "lab"}, "transform": [{"filter": "datum.p == 'b1'"}], "mark": {"type": "text", "align": "left", "baseline": "middle", "fontStyle": "italic"}, "encoding": {"text": {"field": "s"}}},
   {"data": {"name": "lab"}, "transform": [{"filter": "datum.p == 'b1'"}], "mark": {"type": "text", "align": "left", "baseline": "middle", "dx": 14}, "encoding": {"text": {"field": "r"}}},
   {"data": {"name": "tag"}, "transform": [{"filter": "datum.p == 'b1'"}], "mark": {"type": "text", "align": "center", "baseline": "middle", "fontWeight": "bold", "fontSize": 21}, "encoding": {"text": {"field": "g"}}}
  ]},
 {"width": 202, "height": 344,
  "encoding": {
   "x": {"field": "c", "type": "quantitative", "scale": {"domain": [335, 395], "nice": false, "zero": false}, "axis": {"values": [340,350,360,370,380,390], "labelExpr": "datum.value % 20 == 0 ? datum.label : ''", "tickSize": -6, "labelPadding": 7, "title": null}},
   "y": {"field": "t", "type": "quantitative", "scale": {"domain": [0, 1], "nice": false, "zero": false}, "axis": null}},
  "layer": [
   {"data": {"name": "curve"}, "transform": [{"filter": "datum.p == 'b2'"}], "mark": {"type": "line", "color": "black", "strokeWidth": 1.6}},
   {"data": {"name": "pts"}, "transform": [{"filter": "datum.p == 'b2'"}], "mark": {"type": "point", "shape": "M-1,-1L1,1M1,-1L-1,1", "size": 30, "stroke": "black", "strokeWidth": 1, "filled": false, "opacity": 1}},
   {"data": {"name": "lab"}, "transform": [{"filter": "datum.p == 'b2'"}], "mark": {"type": "text", "align": "left", "baseline": "middle", "fontStyle": "italic"}, "encoding": {"text": {"field": "s"}}},
   {"data": {"name": "lab"}, "transform": [{"filter": "datum.p == 'b2'"}], "mark": {"type": "text", "align": "left", "baseline": "middle", "dx": 14}, "encoding": {"text": {"field": "r"}}},
   {"data": {"name": "tag"}, "transform": [{"filter": "datum.p == 'b2'"}], "mark": {"type": "text", "align": "center", "baseline": "middle", "fontWeight": "bold", "fontSize": 21}, "encoding": {"text": {"field": "g"}}}
  ]},
 {"width": 202, "height": 344,
  "encoding": {
   "x": {"field": "c", "type": "quantitative", "scale": {"domain": [335, 395], "nice": false, "zero": false}, "axis": {"values": [340,350,360,370,380,390], "labelExpr": "datum.value % 20 == 0 ? datum.label : ''", "tickSize": -6, "labelPadding": 7, "title": "Channel number", "titlePadding": 8}},
   "y": {"field": "t", "type": "quantitative", "scale": {"domain": [0, 1], "nice": false, "zero": false}, "axis": null}},
  "layer": [
   {"data": {"name": "curve"}, "transform": [{"filter": "datum.p == 'b3'"}], "mark": {"type": "line", "color": "black", "strokeWidth": 1.6}},
   {"data": {"name": "pts"}, "transform": [{"filter": "datum.p == 'b3'"}], "mark": {"type": "point", "shape": "M-1,-1L1,1M1,-1L-1,1", "size": 30, "stroke": "black", "strokeWidth": 1, "filled": false, "opacity": 1}},
   {"data": {"name": "lab"}, "transform": [{"filter": "datum.p == 'b3'"}], "mark": {"type": "text", "align": "left", "baseline": "middle", "fontStyle": "italic"}, "encoding": {"text": {"field": "s"}}},
   {"data": {"name": "lab"}, "transform": [{"filter": "datum.p == 'b3'"}], "mark": {"type": "text", "align": "left", "baseline": "middle", "dx": 14}, "encoding": {"text": {"field": "r"}}},
   {"data": {"name": "tag"}, "transform": [{"filter": "datum.p == 'b3'"}], "mark": {"type": "text", "align": "center", "baseline": "middle", "fontWeight": "bold", "fontSize": 21}, "encoding": {"text": {"field": "g"}}}
  ]},
 {"width": 202, "height": 344,
  "encoding": {
   "x": {"field": "c", "type": "quantitative", "scale": {"domain": [335, 395], "nice": false, "zero": false}, "axis": {"values": [340,350,360,370,380,390], "labelExpr": "datum.value % 20 == 0 ? datum.label : ''", "tickSize": -6, "labelPadding": 7, "title": null}},
   "y": {"field": "t", "type": "quantitative", "scale": {"domain": [0, 1], "nice": false, "zero": false}, "axis": null}},
  "layer": [
   {"data": {"name": "curve"}, "transform": [{"filter": "datum.p == 'b4'"}], "mark": {"type": "line", "color": "black", "strokeWidth": 1.6}},
   {"data": {"name": "pts"}, "transform": [{"filter": "datum.p == 'b4'"}], "mark": {"type": "point", "shape": "M-1,-1L1,1M1,-1L-1,1", "size": 30, "stroke": "black", "strokeWidth": 1, "filled": false, "opacity": 1}},
   {"data": {"name": "lab"}, "transform": [{"filter": "datum.p == 'b4'"}], "mark": {"type": "text", "align": "left", "baseline": "middle", "fontStyle": "italic"}, "encoding": {"text": {"field": "s"}}},
   {"data": {"name": "lab"}, "transform": [{"filter": "datum.p == 'b4'"}], "mark": {"type": "text", "align": "left", "baseline": "middle", "dx": 14}, "encoding": {"text": {"field": "r"}}},
   {"data": {"name": "tag"}, "transform": [{"filter": "datum.p == 'b4'"}], "mark": {"type": "text", "align": "center", "baseline": "middle", "fontWeight": "bold", "fontSize": 21}, "encoding": {"text": {"field": "g"}}}
  ]},
 {"width": 202, "height": 344,
  "encoding": {
   "x": {"field": "c", "type": "quantitative", "scale": {"domain": [335, 395], "nice": false, "zero": false}, "axis": {"values": [340,350,360,370,380,390], "labelExpr": "datum.value % 20 == 0 ? datum.label : ''", "tickSize": -6, "labelPadding": 7, "title": null}},
   "y": {"field": "t", "type": "quantitative", "scale": {"domain": [0, 1], "nice": false, "zero": false}, "axis": {"orient": "right", "values": [0.1,0.2,0.3,0.4,0.5,0.6,0.7,0.8,0.9,1.0], "labelExpr": "round(datum.value*10) % 2 == 0 ? replace(format(datum.value, '.1f'), '.', '. ') : ''", "tickSize": -5, "labelPadding": 6, "title": null}}},
  "layer": [
   {"data": {"name": "curve"}, "transform": [{"filter": "datum.p == 'b5'"}], "mark": {"type": "line", "color": "black", "strokeWidth": 1.6}},
   {"data": {"name": "pts"}, "transform": [{"filter": "datum.p == 'b5'"}], "mark": {"type": "point", "shape": "M-1,-1L1,1M1,-1L-1,1", "size": 30, "stroke": "black", "strokeWidth": 1, "filled": false, "opacity": 1}},
   {"data": {"name": "lab"}, "transform": [{"filter": "datum.p == 'b5'"}], "mark": {"type": "text", "align": "left", "baseline": "middle", "fontStyle": "italic"}, "encoding": {"text": {"field": "s"}}},
   {"data": {"name": "lab"}, "transform": [{"filter": "datum.p == 'b5'"}], "mark": {"type": "text", "align": "left", "baseline": "middle", "dx": 14}, "encoding": {"text": {"field": "r"}}},
   {"data": {"name": "tag"}, "transform": [{"filter": "datum.p == 'b5'"}], "mark": {"type": "text", "align": "center", "baseline": "middle", "fontWeight": "bold", "fontSize": 21}, "encoding": {"text": {"field": "g"}}}
  ]}
]}
]
}
